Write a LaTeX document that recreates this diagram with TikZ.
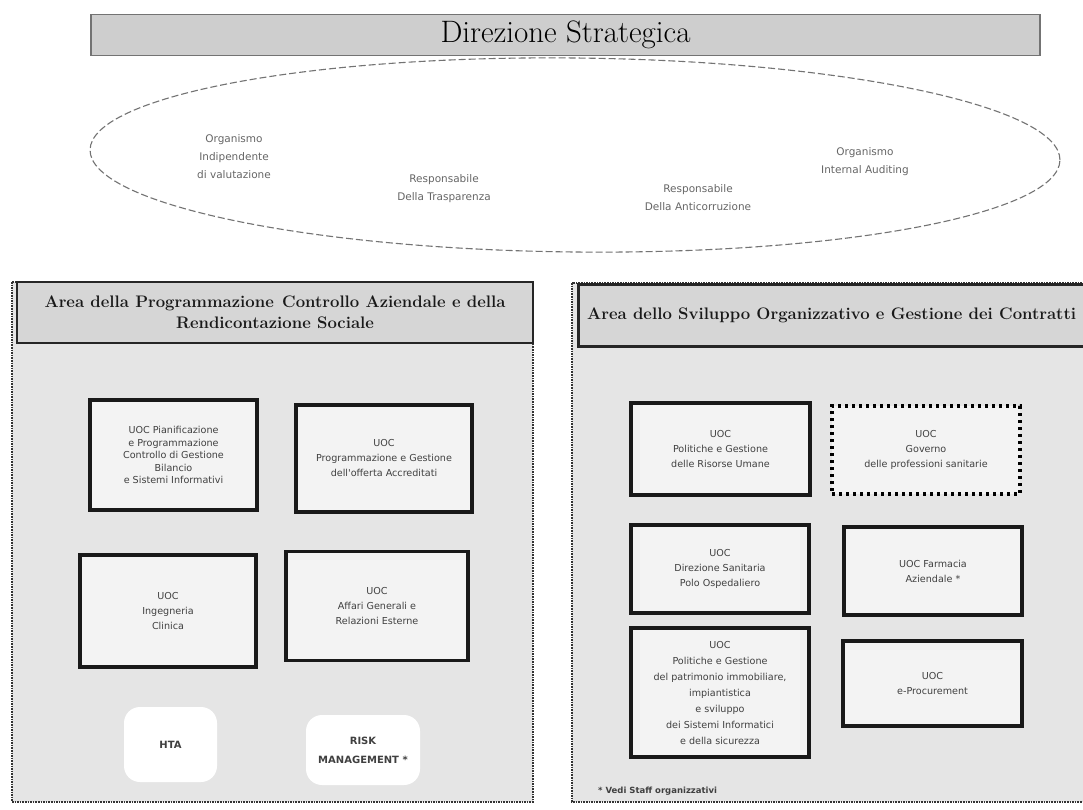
\documentclass[tikz,border=0pt]{standalone}
\usepackage{fontspec}
\newfontfamily\uocsans{DejaVu Sans}
\usetikzlibrary{shapes,calc}
\definecolor{fondo}{RGB}{229,229,229}
\definecolor{testata}{RGB}{214,214,214}
\definecolor{riquadro}{RGB}{243,243,243}
\definecolor{banda}{RGB}{206,206,206}

\begin{document}
\begin{tikzpicture}[x=1pt,y=-1pt]
	\tikzstyle{every node}=[inner sep=0pt, align=center]
	\tikzstyle{area}=[draw=black!80, densely dotted, line width=1.6pt, fill=fondo]
	\tikzstyle{testa}=[rectangle, draw=black!85, line width=2.6pt, fill=testata]
	\tikzstyle{titolo}=[font={\fontsize{16.7}{20.5}\selectfont\bfseries}, text=black!90]
	\tikzstyle{uoc}=[rectangle, draw=black!90, line width=3.2pt, fill=riquadro, text=black!75, font={\uocsans\fontsize{9.6}{15}\selectfont}]
	\tikzstyle{staff}=[rectangle, rounded corners=16pt, fill=white, text=black!75, font={\uocsans\bfseries\fontsize{10}{19}\selectfont}]
	\tikzstyle{organo}=[text=black!60, font={\uocsans\fontsize{10.5}{18}\selectfont}]
	\fill[white] (0,0) rectangle (1083,810);
	\useasboundingbox (0,0) rectangle (1083,810);
	\clip (0,0) rectangle (1083,810);
	% direzione e organismi
	\node[rectangle, draw=black!55, line width=1.8pt, fill=banda, minimum width=949pt, minimum height=41pt, font={\fontsize{31}{33}\selectfont}] (direzione) at (565.5,35) {Direzione Strategica};
	\node[ellipse, draw=black!55, dash pattern=on 7pt off 3pt, line width=1.1pt, minimum width=970pt, minimum height=194pt, rotate=-0.6] (ovale) at (575,155) {};
	\node[organo] (oiv) at (234,157) {Organismo\\Indipendente\\di valutazione};
	\node[organo] (trasparenza) at (444,189) {Responsabile\\Della Trasparenza};
	\node[organo] (anticorruzione) at (698,197.5) {Responsabile\\Della Anticorruzione};
	\node[organo] (auditing) at (865,162) {Organismo\\Internal Auditing};
	% area programmazione
	\draw[area] (12,282) rectangle (533,802);
	\node[testa, minimum width=516pt, minimum height=61pt] (testasx) at (275,312.5) {};
	\node[titolo] (titolosx) at (testasx.center) {Area della Programmazione\enspace Controllo Aziendale e della\\Rendicontazione Sociale};
	\node[uoc, minimum width=167pt, minimum height=110pt, font={\uocsans\fontsize{9.6}{12.5}\selectfont}] (pianificazione) at (173.5,455) {UOC Pianificazione\\e Programmazione\\Controllo di Gestione\\Bilancio\\e Sistemi Informativi};
	\node[uoc, minimum width=176pt, minimum height=107pt] (accreditati) at (384,458.5) {UOC\\Programmazione e Gestione\\dell'offerta Accreditati};
	\node[uoc, minimum width=176pt, minimum height=112pt] (ingegneria) at (168,611) {UOC\\Ingegneria\\Clinica};
	\node[uoc, minimum width=182pt, minimum height=109pt] (affari) at (377,606) {UOC\\Affari Generali e\\Relazioni Esterne};
	\node[staff, minimum width=93pt, minimum height=75pt] (hta) at (170.5,744.5) {HTA};
	\node[staff, minimum width=114pt, minimum height=70pt] (risk) at (363,750) {RISK\\MANAGEMENT *};
	% area sviluppo organizzativo
	\draw[area] (572,283) rectangle (1110,802);
	\node[testa, minimum width=540pt, minimum height=62pt, anchor=north west] (testadx) at (577,283) {};
	\node[titolo, anchor=west] (titolodx) at ([xshift=10pt]testadx.west) {Area dello Sviluppo Organizzativo e Gestione dei Contratti};
	\node[uoc, minimum width=179pt, minimum height=92pt] (risorse) at (720.5,449) {UOC\\Politiche e Gestione\\delle Risorse Umane};
	\node[uoc, draw=black, line width=3.4pt, dash pattern=on 3.4pt off 3.6pt, minimum width=188pt, minimum height=88pt] (professioni) at (926,450) {UOC\\Governo\\delle professioni sanitarie};
	\node[uoc, minimum width=178pt, minimum height=88pt] (polo) at (720,569) {UOC\\Direzione Sanitaria\\Polo Ospedaliero};
	\node[uoc, minimum width=178pt, minimum height=88pt] (farmacia) at (933,571) {UOC Farmacia\\Aziendale *};
	\node[uoc, minimum width=178pt, minimum height=129pt, font={\uocsans\fontsize{9.6}{16}\selectfont}] (patrimonio) at (720,692.5) {UOC\\Politiche e Gestione\\del patrimonio immobiliare,\\impiantistica\\e sviluppo\\dei Sistemi Informatici\\e della sicurezza};
	\node[uoc, minimum width=179pt, minimum height=85pt] (procurement) at (932.5,683.5) {UOC\\e-Procurement};
	\node[anchor=west, text=black!75, font={\uocsans\bfseries\fontsize{8.5}{10}\selectfont}] (nota) at (598,791) {* Vedi Staff organizzativi};
\end{tikzpicture}
\end{document}
